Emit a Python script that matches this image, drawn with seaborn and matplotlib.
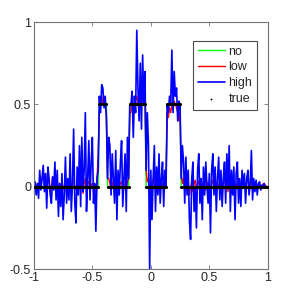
import numpy as np
import pandas as pd
import seaborn as sns
import matplotlib
matplotlib.use('Agg')
import matplotlib.pyplot as plt

# setup
sns.set_style('ticks')
plt.rcParams['font.family'] = ['Liberation Sans', 'DejaVu Sans']

# data: signal on a grid from -1 to 1, step 0.01
x = np.round(np.linspace(-1, 1, 201), 2)

# true signal: levels between breakpoints
true_edges = [-1.0, -0.44, -0.37, -0.18, -0.04, 0.14, 0.26, 1.0]
true_levels = [0, 0.5, 0, 0.5, 0, 0.5, 0]

low = [
    0.0, 0.01, -0.02, 0.02, 0.0, 0.03, -0.01, 0.05, 0.1, 0.04,
    0.08, -0.02, 0.05, 0.03, -0.03, 0.0, 0.06, 0.02, 0.03, -0.02,
    0.04, -0.03, 0.02, -0.02, 0.03, 0.0, -0.02, 0.03, -0.01, 0.02,
    -0.02, 0.02, -0.03, 0.01, 0.04, -0.02, 0.0, 0.03, -0.02, 0.02,
    -0.01, 0.03, -0.04, 0.02, 0.05, -0.03, 0.02, 0.03, -0.02, 0.01,
    0.02, -0.03, -0.05, -0.12, 0.05, 0.2, 0.45, 0.52, 0.55, 0.5,
    0.5, 0.48, 0.45, 0.05, 0.05, 0.02, -0.03, 0.03, 0.0, -0.02,
    0.02, -0.03, 0.01, 0.0, 0.02, 0.03, -0.02, 0.01, 0.02, -0.01,
    0.03, 0.05, 0.45, 0.45, 0.52, 0.48, 0.5, 0.53, 0.55, 0.5,
    0.48, 0.55, 0.6, 0.52, 0.5, 0.55, 0.1, 0.03, 0.05, -0.05,
    0.02, -0.03, 0.05, 0.03, -0.02, 0.02, -0.04, 0.03, -0.02, 0.0,
    0.02, -0.03, 0.03, 0.05, 0.45, 0.42, 0.48, 0.45, 0.5, 0.47,
    0.52, 0.5, 0.48, 0.45, 0.4, 0.45, 0.08, 0.02, 0.05, -0.02,
    0.03, -0.02, 0.02, -0.05, 0.0, 0.03, -0.03, 0.02, 0.04, -0.02,
    0.02, 0.03, -0.02, 0.05, -0.03, 0.02, 0.0, -0.02, 0.03, 0.01,
    0.0, -0.03, 0.02, 0.04, -0.01, 0.02, -0.02, 0.03, 0.0, -0.02,
    0.03, -0.02, 0.02, 0.05, 0.0, 0.02, -0.03, 0.03, 0.04, 0.0,
    -0.02, 0.03, -0.03, 0.02, 0.0, 0.05, 0.03, -0.02, 0.02, 0.04,
    0.02, -0.02, 0.03, 0.05, 0.0, 0.02, 0.04, -0.03, 0.02, 0.0,
    0.03, -0.01, 0.02, 0.0, 0.01, -0.01, 0.02, 0.0, 0.01, 0.0, 0.0,
]

high = [
    0.0, 0.03, -0.05, 0.02, -0.07, 0.1, -0.02, 0.05, 0.13, -0.03,
    0.08, -0.13, 0.12, 0.05, -0.05, -0.1, 0.06, -0.02, 0.15, -0.08,
    0.1, -0.18, 0.02, -0.12, 0.08, -0.2, -0.05, 0.18, -0.1, 0.05,
    -0.08, 0.2, -0.15, 0.02, 0.35, -0.1, -0.22, 0.12, -0.05, 0.25,
    -0.12, 0.3, -0.03, 0.1, 0.45, -0.15, 0.05, 0.28, -0.08, 0.15,
    0.3, -0.1, 0.02, -0.27, 0.05, 0.1, 0.55, 0.45, 0.62, 0.6,
    0.48, 0.55, 0.42, 0.05, 0.3, 0.25, -0.05, 0.2, 0.05, -0.1,
    0.22, -0.2, 0.1, -0.05, 0.15, 0.28, -0.12, 0.05, 0.2, -0.15,
    0.3, 0.05, 0.5, 0.5, 0.58, 0.3, 0.55, 0.45, 0.95, 0.6,
    0.4, 0.75, 0.35, 0.8, 0.5, 0.7, 0.1, 0.45, 0.25, -0.5,
    0.1, -0.2, 0.05, 0.25, -0.15, 0.12, -0.05, 0.2, -0.1, 0.05,
    0.15, -0.12, 0.1, 0.0, 0.5, 0.45, 0.55, 0.5, 0.83, 0.45,
    0.7, 0.55, 0.6, 0.4, 0.52, 0.5, 0.05, 0.25, 0.15, -0.1,
    0.18, -0.05, 0.1, -0.2, -0.32, 0.05, 0.15, -0.15, 0.0, -0.25,
    0.1, 0.2, -0.1, 0.05, -0.2, 0.12, -0.05, 0.15, 0.0, -0.1,
    0.08, -0.28, 0.1, 0.2, -0.05, 0.12, -0.15, 0.05, 0.18, -0.08,
    0.1, -0.12, 0.05, 0.15, -0.1, 0.2, 0.0, 0.25, -0.15, 0.1,
    -0.05, 0.12, -0.2, 0.08, 0.15, -0.1, 0.05, -0.12, 0.1, 0.0,
    0.08, -0.1, 0.05, 0.1, -0.05, 0.02, 0.22, -0.08, 0.05, -0.03,
    0.04, -0.05, 0.02, 0.03, -0.02, 0.01, 0.0, 0.02, -0.01, 0.0, 0.0,
]

xticks = [-1, -0.5, 0, 0.5, 1]
xticklabels = ['-1', '-0.5', '0', '0.5', '1']
yticks = [-0.5, 0, 0.5, 1]
yticklabels = ['-0.5', '0', '0.5', '1']

seg = np.clip(np.searchsorted(true_edges, x + 1e-9, side='right') - 1, 0, len(true_levels) - 1)
true = np.array(true_levels, dtype=float)[seg]

data = pd.DataFrame({'x': x, 'no': true, 'low': low, 'high': high, 'true': true})

# plot
fig = plt.figure(figsize=(2.87, 3.03), dpi=100)
ax = fig.add_axes([0.118, 0.112, 0.815, 0.815])

sns.lineplot(x='x', y='no', data=data, ax=ax, color='#00ff00', lw=1, label='no')
sns.lineplot(x='x', y='low', data=data, ax=ax, color='#ff0000', lw=1, label='low')
sns.lineplot(x='x', y='high', data=data, ax=ax, color='#0000ff', lw=1.2, label='high')
sns.scatterplot(x='x', y='true', data=data, ax=ax, color='k', marker='o', s=5,
                linewidth=0, label='true', zorder=5)

ax.set_xlim(-1, 1)
ax.set_ylim(-0.5, 1)
ax.set_xticks(xticks)
ax.set_xticklabels(xticklabels)
ax.set_yticks(yticks)
ax.set_yticklabels(yticklabels)
ax.set_xlabel('')
ax.set_ylabel('')
ax.tick_params(direction='in', top=True, right=True, length=3, width=0.6,
               color='0.45', labelsize=9, pad=2)
for sp in ax.spines.values():
    sp.set_visible(True)
    sp.set_color('0.45')
    sp.set_linewidth(0.8)

leg = ax.legend(loc='upper right', bbox_to_anchor=(0.955, 0.925), borderaxespad=0,
                fontsize=9, fancybox=False, framealpha=1, edgecolor='0.3',
                handlelength=2.1, handletextpad=0.3, labelspacing=0.3,
                borderpad=0.4, markerscale=0.6)
leg.get_frame().set_linewidth(0.8)

fig.savefig('out.png', dpi=100)
